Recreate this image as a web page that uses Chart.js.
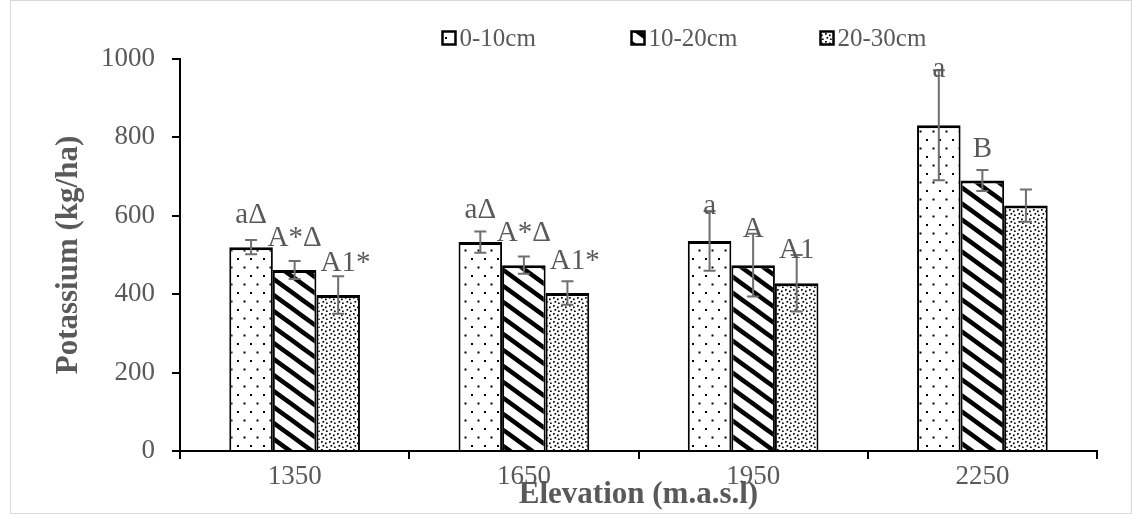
<!DOCTYPE html>
<html>
<head>
<meta charset="utf-8">
<title>Potassium by elevation</title>
<script src="https://cdn.jsdelivr.net/npm/chart.js@4.4.1/dist/chart.umd.min.js"></script>
<style>
    html, body { margin: 0; padding: 0; background: #fff; }
    #wrap { width: 1132px; height: 514px; }
</style>
</head>
<body>
<div id="wrap"><canvas id="chart" width="1132" height="514"></canvas></div>
<script>
(function () {
    'use strict';

    // --- Data ---

    const elevations = ['1350', '1650', '1950', '2250'];
    const depthNames = ['0-10cm', '10-20cm', '20-30cm'];

    const potassium0to10 = [520, 533, 536, 831];
    const potassium10to20 = [462, 474, 474, 690];
    const potassium20to30 = [398, 403, 428, 626];

    const error0to10 = [18, 27, 76, 140];
    const error10to20 = [23, 22, 80, 27];
    const error20to30 = [48, 30, 72, 41];

    const letters0to10 = ['a\u0394', 'a\u0394', 'a', 'a'];
    const letters10to20 = ['A*\u0394', 'A*\u0394', 'A', 'B'];
    const letters20to30 = ['A1*', 'A1*', 'A1', ''];

    const yTicks = [0, 200, 400, 600, 800, 1000];

    // --- Styles ---

    const FONT = '"Liberation Serif", "Times New Roman", serif';
    const TEXT = '#595959';

    function makePattern(w, h, draw) {
        const c = document.createElement('canvas');
        c.width = w;
        c.height = h;
        const g = c.getContext('2d');
        g.fillStyle = '#fff';
        g.fillRect(0, 0, w, h);
        g.fillStyle = '#000';
        g.strokeStyle = '#000';
        draw(g, w, h);
        return g.createPattern(c, 'repeat');
    }

    // sparse staggered dots
    const sparseDots = makePattern(13, 17, (g) => {
        g.fillRect(3, 3, 2, 2);
        g.fillRect(9.5, 11.5, 2, 2);
    });

    // thick "\" stripes
    const stripes = makePattern(22, 16, (g, w, h) => {
        g.lineWidth = 4.6;
        for (let k = -1; k <= 1; k++) {
            g.beginPath();
            g.moveTo(-4, k * h - 4 * h / w);
            g.lineTo(w + 4, k * h + h + 4 * h / w);
            g.stroke();
        }
    });

    // dense dots
    const denseDots = makePattern(8, 8, (g) => {
        [[1, 1], [5, 2.5], [2.5, 5], [6, 6.5]].forEach(p => g.fillRect(p[0], p[1], 1.7, 1.7));
    });

    const patterns = [sparseDots, stripes, denseDots];

    // --- Plugins ---

    const frame = {
        id: 'frame',
        beforeDraw(chart) {
            const ctx = chart.ctx;
            ctx.save();
            ctx.fillStyle = '#fff';
            ctx.fillRect(0, 0, chart.width, chart.height);
            ctx.strokeStyle = '#d9d9d9';
            ctx.lineWidth = 1;
            ctx.strokeRect(10.5, 0.5, chart.width - 11, chart.height - 1);
            ctx.restore();
        },
    };

    const errorBars = {
        id: 'errorBars',
        afterDatasetsDraw(chart) {
            const ctx = chart.ctx;
            const y = chart.scales.y;
            const area = chart.chartArea;
            ctx.save();
            chart.data.datasets.forEach((ds, i) => {
                const meta = chart.getDatasetMeta(i);
                meta.data.forEach((bar, j) => {
                    const v = ds.data[j];
                    const e = ds.errors[j];
                    const top = y.getPixelForValue(v + e);
                    const bottom = y.getPixelForValue(v - e);
                    ctx.strokeStyle = '#6f6f6f';
                    ctx.lineWidth = 2;
                    ctx.beginPath();
                    ctx.moveTo(bar.x, top);
                    ctx.lineTo(bar.x, bottom);
                    ctx.moveTo(bar.x - 6, top);
                    ctx.lineTo(bar.x + 6, top);
                    ctx.moveTo(bar.x - 6, bottom);
                    ctx.lineTo(bar.x + 6, bottom);
                    ctx.stroke();

                    // significance letters sit above the bar, dropping onto long whiskers
                    const text = ds.letters[j];
                    if (!text) return;
                    ctx.fillStyle = TEXT;
                    ctx.font = '29px ' + FONT;
                    ctx.textAlign = 'center';
                    ctx.textBaseline = 'alphabetic';
                    const base = Math.max(Math.min(bar.y - 24, top + 3), area.top + 18);
                    let shift = 0;
                    if (text.endsWith('*') && text.indexOf('*') === text.length - 1 && text[0] === 'A') {
                        shift = ctx.measureText('*').width / 2;
                    }
                    ctx.fillText(text, bar.x + shift, base);
                });
            });
            ctx.restore();
        },
    };

    const patternLegend = {
        id: 'patternLegend',
        afterDraw(chart) {
            const ctx = chart.ctx;
            const area = chart.chartArea;
            ctx.save();
            ctx.font = '25px ' + FONT;
            ctx.textBaseline = 'middle';
            const box = 13;
            const gap = 4;
            const spacing = 189;
            const cy = 38;
            const start = (area.left + area.right) / 2 + 23 - spacing - 30;
            chart.data.datasets.forEach((ds, i) => {
                const x = start + i * spacing;
                ctx.fillStyle = ds.backgroundColor;
                ctx.fillRect(x, cy - box / 2, box, box);
                ctx.strokeStyle = '#000';
                ctx.lineWidth = 2.5;
                ctx.strokeRect(x, cy - box / 2, box, box);
                ctx.fillStyle = TEXT;
                ctx.textAlign = 'left';
                ctx.fillText(ds.label, x + box + gap, cy + 1);
            });
            ctx.restore();
        },
    };

    // --- Chart ---

    const series = [
        { values: potassium0to10, errors: error0to10, letters: letters0to10 },
        { values: potassium10to20, errors: error10to20, letters: letters10to20 },
        { values: potassium20to30, errors: error20to30, letters: letters20to30 },
    ];

    const datasets = series.map((s, i) => ({
        label: depthNames[i],
        data: s.values,
        errors: s.errors,
        letters: s.letters,
        backgroundColor: patterns[i],
        borderColor: '#000',
        borderWidth: { top: 3, left: 2, right: 2, bottom: 0 },
        categoryPercentage: 0.57,
        barPercentage: 1.0,
    }));

    new Chart(document.getElementById('chart').getContext('2d'), {
        type: 'bar',
        data: { labels: elevations, datasets: datasets },
        plugins: [frame, errorBars, patternLegend],
        options: {
            responsive: false,
            animation: false,
            layout: { padding: { top: 59, right: 35, bottom: 0, left: 0 } },
            plugins: {
                legend: { display: false },
                tooltip: { enabled: false },
            },
            scales: {
                x: {
                    afterFit: (scale) => { scale.height = 63; },
                    grid: {
                        offset: true,
                        drawOnChartArea: false,
                        drawTicks: true,
                        tickLength: 8,
                        color: '#000',
                        lineWidth: 2,
                    },
                    border: { display: true, color: '#000', width: 2 },
                    ticks: { color: TEXT, font: { family: FONT, size: 27 }, padding: 2 },
                    title: {
                        display: true,
                        text: 'Elevation (m.a.s.l)',
                        color: TEXT,
                        font: { family: FONT, size: 31, weight: 'bold' },
                        padding: { top: 0, bottom: 0 },
                    },
                },
                y: {
                    min: 0,
                    max: 1000,
                    afterFit: (scale) => { scale.width = 180; },
                    afterBuildTicks: (scale) => { scale.ticks = yTicks.map(v => ({ value: v })); },
                    grid: {
                        drawOnChartArea: false,
                        drawTicks: true,
                        tickLength: 8,
                        color: '#000',
                        lineWidth: 2,
                    },
                    border: { display: true, color: '#000', width: 2 },
                    ticks: {
                        color: TEXT,
                        font: { family: FONT, size: 27 },
                        padding: 17,
                        callback: (v) => String(v),
                    },
                    title: {
                        display: true,
                        text: 'Potassium (kg/ha)',
                        color: TEXT,
                        font: { family: FONT, size: 31, weight: 'bold' },
                        padding: { top: 50, bottom: 0 },
                    },
                },
            },
        },
    });
})();
</script>
</body>
</html>
